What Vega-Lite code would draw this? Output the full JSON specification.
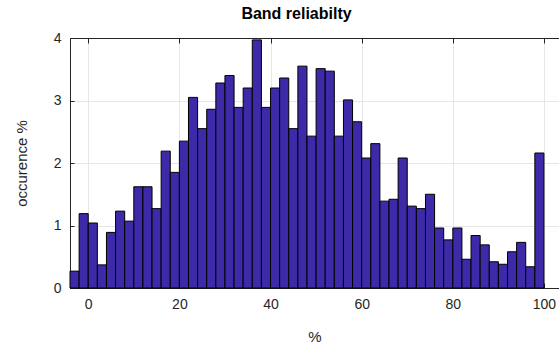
{
  "$schema": "https://vega.github.io/schema/vega-lite/v6.json",
  "width": 489,
  "height": 250,
  "autosize": {"type": "none"},
  "padding": {"left": 70, "top": 38, "right": 0, "bottom": 61},
  "background": "white",
  "title": {
    "text": "Band reliabilty",
    "font": "Liberation Sans",
    "fontSize": 16,
    "fontWeight": "bold",
    "color": "black",
    "anchor": "middle",
    "frame": "group",
    "offset": 9,
    "dx": -18
  },
  "config": {
    "view": {"stroke": "#262626", "strokeWidth": 1},
    "axis": {
      "labelFont": "Liberation Sans",
      "titleFont": "Liberation Sans",
      "labelColor": "#262626",
      "titleColor": "#262626",
      "labelFontSize": 14,
      "titleFontSize": 15,
      "titleFontWeight": "normal",
      "gridColor": "#e6e6e6",
      "gridOpacity": 1,
      "domainColor": "#262626",
      "tickColor": "#262626"
    }
  },
  "data": {
    "values": [
      {"start": -4, "end": -2, "value": 0.27},
      {"start": -2, "end": 0, "value": 1.19},
      {"start": 0, "end": 2, "value": 1.04},
      {"start": 2, "end": 4, "value": 0.37},
      {"start": 4, "end": 6, "value": 0.89},
      {"start": 6, "end": 8, "value": 1.23},
      {"start": 8, "end": 10, "value": 1.07},
      {"start": 10, "end": 12, "value": 1.62},
      {"start": 12, "end": 14, "value": 1.62},
      {"start": 14, "end": 16, "value": 1.27},
      {"start": 16, "end": 18, "value": 2.19},
      {"start": 18, "end": 20, "value": 1.85},
      {"start": 20, "end": 22, "value": 2.35},
      {"start": 22, "end": 24, "value": 3.05},
      {"start": 24, "end": 26, "value": 2.55},
      {"start": 26, "end": 28, "value": 2.86},
      {"start": 28, "end": 30, "value": 3.28},
      {"start": 30, "end": 32, "value": 3.40},
      {"start": 32, "end": 34, "value": 2.89},
      {"start": 34, "end": 36, "value": 3.20},
      {"start": 36, "end": 38, "value": 3.97},
      {"start": 38, "end": 40, "value": 2.89},
      {"start": 40, "end": 42, "value": 3.20},
      {"start": 42, "end": 44, "value": 3.36},
      {"start": 44, "end": 46, "value": 2.55},
      {"start": 46, "end": 48, "value": 3.55},
      {"start": 48, "end": 50, "value": 2.43},
      {"start": 50, "end": 52, "value": 3.51},
      {"start": 52, "end": 54, "value": 3.47},
      {"start": 54, "end": 56, "value": 2.43},
      {"start": 56, "end": 58, "value": 3.01},
      {"start": 58, "end": 60, "value": 2.66},
      {"start": 60, "end": 62, "value": 2.08},
      {"start": 62, "end": 64, "value": 2.31},
      {"start": 64, "end": 66, "value": 1.39},
      {"start": 66, "end": 68, "value": 1.42},
      {"start": 68, "end": 70, "value": 2.08},
      {"start": 70, "end": 72, "value": 1.31},
      {"start": 72, "end": 74, "value": 1.27},
      {"start": 74, "end": 76, "value": 1.50},
      {"start": 76, "end": 78, "value": 0.96},
      {"start": 78, "end": 80, "value": 0.77},
      {"start": 80, "end": 82, "value": 0.96},
      {"start": 82, "end": 84, "value": 0.46},
      {"start": 84, "end": 86, "value": 0.84},
      {"start": 86, "end": 88, "value": 0.69},
      {"start": 88, "end": 90, "value": 0.42},
      {"start": 90, "end": 92, "value": 0.38},
      {"start": 92, "end": 94, "value": 0.58},
      {"start": 94, "end": 96, "value": 0.73},
      {"start": 96, "end": 98, "value": 0.34},
      {"start": 98, "end": 100, "value": 2.16}
    ]
  },
  "layer": [
    {
      "mark": {"type": "bar", "color": "#3d2aa8", "stroke": "#000000", "strokeWidth": 1},
      "encoding": {
        "x": {
          "field": "start",
          "type": "quantitative",
          "scale": {"domain": [-4, 103.3], "nice": false, "zero": false},
          "axis": {
            "orient": "bottom",
            "values": [0, 20, 40, 60, 80, 100],
            "grid": true,
            "tickSize": -5,
            "labelPadding": 14,
            "title": "%",
            "titlePadding": 18
          }
        },
        "x2": {"field": "end"},
        "y": {
          "field": "value",
          "type": "quantitative",
          "scale": {"domain": [0, 4], "nice": false},
          "axis": {
            "orient": "left",
            "values": [0, 1, 2, 3, 4],
            "grid": true,
            "tickSize": -4,
            "labelPadding": 13,
            "title": "occurence %",
            "titlePadding": 24
          }
        },
        "y2": {"datum": 0}
      }
    },
    {
      "mark": {"type": "rule", "opacity": 0},
      "encoding": {
        "x": {
          "field": "start",
          "type": "quantitative",
          "axis": {
            "orient": "top",
            "values": [0, 20, 40, 60, 80, 100],
            "grid": false,
            "labels": false,
            "tickSize": -5,
            "title": null
          }
        }
      }
    }
  ],
  "resolve": {"axis": {"x": "independent"}}
}
